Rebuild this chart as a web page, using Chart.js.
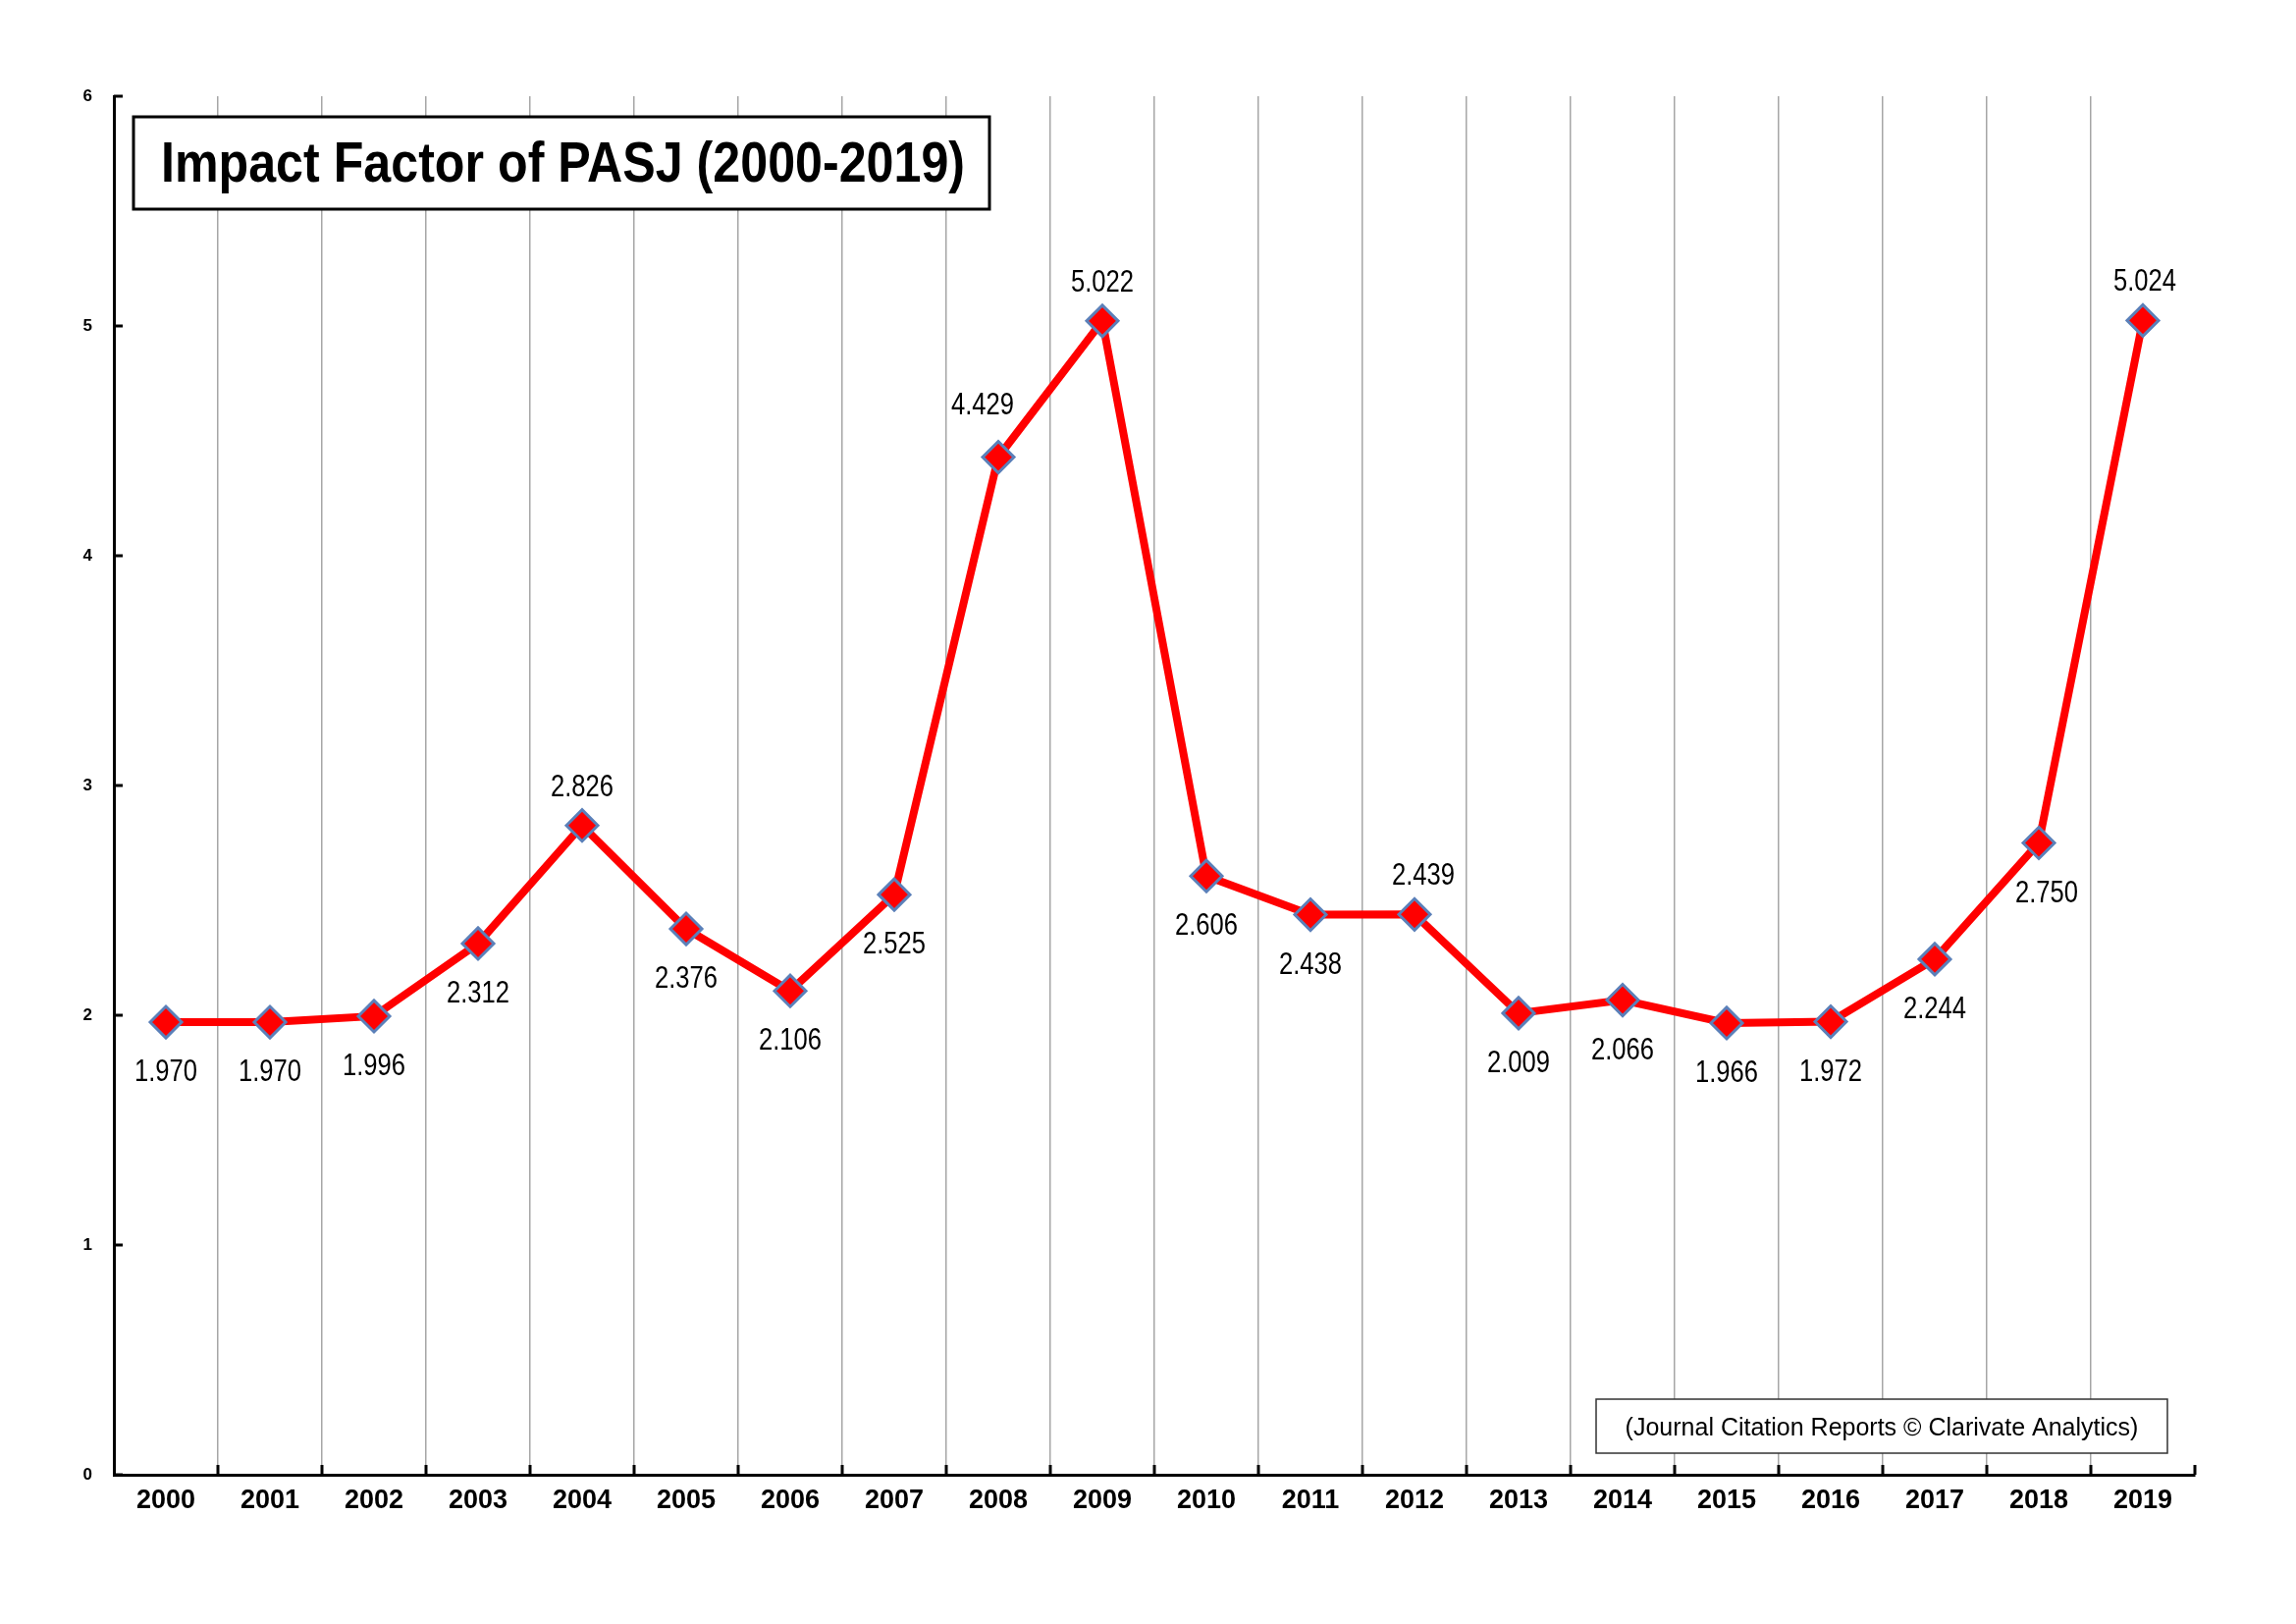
<!DOCTYPE html>
<html><head><meta charset="utf-8">
<script src="https://cdn.jsdelivr.net/npm/chart.js@4/dist/chart.umd.min.js"></script>
<style>html,body{margin:0;padding:0;background:#fff}</style>
</head><body>
<canvas id="c" width="2339" height="1654"></canvas>
<script>
const years = ['2000','2001','2002','2003','2004','2005','2006','2007','2008','2009','2010','2011','2012','2013','2014','2015','2016','2017','2018','2019'];
const impactFactors = [1.970,1.970,1.996,2.312,2.826,2.376,2.106,2.525,4.429,5.022,2.606,2.438,2.439,2.009,2.066,1.966,1.972,2.244,2.750,5.024];
const labelSide = ['below','below','below','below','above','below','below','below','above','above','below','below','above','below','below','below','below','below','below','above'];
const labelShiftX = [0,0,0,0,0,0,0,0,-16,0,0,0,9,0,0,0,0,0,8,2];
const labelShiftY = [0,0,0,0,0,0,0,0,-14,0,0,0,0,0,0,0,0,0,0,0];
const yTickValues = [0,1,2,3,4,5,6];
const titleText = 'Impact Factor of PASJ (2000-2019)';
const sourceText = '(Journal Citation Reports \u00A9 Clarivate Analytics)';

const FONT = "'Liberation Sans', Arial, sans-serif";

const decor = {
  id: 'decor',
  afterDatasetsDraw(chart) {
    const ctx = chart.ctx;
    const ys = chart.scales.y;
    const area = chart.chartArea;
    ctx.save();
    ctx.strokeStyle = '#000'; ctx.lineWidth = 3;
    yTickValues.forEach(v => {
      const py = ys.getPixelForValue(v);
      ctx.beginPath(); ctx.moveTo(area.left, py); ctx.lineTo(area.left + 9, py); ctx.stroke();
    });
    const step = (area.right - area.left) / years.length;
    for (let i = 1; i <= years.length; i++) {
      const px = area.left + i * step;
      ctx.beginPath(); ctx.moveTo(px, area.bottom); ctx.lineTo(px, area.bottom - 10); ctx.stroke();
    }
    // title box
    ctx.fillStyle = '#fff';
    ctx.fillRect(136, 119, 872, 94);
    ctx.strokeStyle = '#000'; ctx.lineWidth = 3;
    ctx.strokeRect(136, 119, 872, 94);
    ctx.fillStyle = '#000';
    ctx.font = "bold 58px " + FONT;
    ctx.textAlign = 'left'; ctx.textBaseline = 'alphabetic';
    ctx.fillText(titleText, 164, 185, 819);
    // source box
    ctx.fillStyle = '#fff';
    ctx.fillRect(1626, 1425, 582, 55);
    ctx.strokeStyle = '#333'; ctx.lineWidth = 1.5;
    ctx.strokeRect(1626, 1425, 582, 55);
    ctx.fillStyle = '#000';
    ctx.font = "25px " + FONT;
    ctx.textAlign = 'center';
    ctx.fillText(sourceText, 1917, 1462, 530);
    // data labels
    const meta = chart.getDatasetMeta(0);
    ctx.font = "32px " + FONT;
    meta.data.forEach((pt, i) => {
      const txt = impactFactors[i].toFixed(3);
      const w = ctx.measureText(txt).width * 0.8;
      const by = (labelSide[i] === 'below' ? pt.y + 60 : pt.y - 30) + labelShiftY[i];
      ctx.fillText(txt, pt.x + labelShiftX[i], by, w);
    });
    ctx.restore();
  }
};

new Chart(document.getElementById('c'), {
  type: 'line',
  data: {
    labels: years,
    datasets: [{
      data: impactFactors,
      borderColor: '#ff0000',
      borderWidth: 8,
      tension: 0,
      pointStyle: 'rectRot',
      pointRadius: 16,
      pointBackgroundColor: '#ff0000',
      pointBorderColor: '#5b80b9',
      pointBorderWidth: 3
    }]
  },
  options: {
    responsive: false,
    animation: false,
    layout: { padding: { left: 0, right: 103, top: 98, bottom: 92 } },
    plugins: { legend: { display: false }, tooltip: { enabled: false } },
    scales: {
      x: {
        offset: true,
        grid: {
          offset: true,
          drawTicks: false,
          lineWidth: 1.5,
          color: (c) => (c.type === 'tick' && c.index > 0) ? '#a6a6a6' : 'rgba(0,0,0,0)'
        },
        border: { color: '#000', width: 3 },
        ticks: { font: { family: FONT, weight: 'bold', size: 27 }, color: '#000', padding: 10, maxRotation: 0, autoSkip: false },
        afterFit(s) { s.height = 60; }
      },
      y: {
        min: 0, max: 6,
        grid: { drawOnChartArea: false, drawTicks: false },
        border: { color: '#000', width: 3 },
        ticks: { stepSize: 1, font: { family: FONT, weight: 'bold', size: 17 }, color: '#000', padding: 22 },
        afterFit(s) { s.width = 116; }
      }
    }
  },
  plugins: [decor]
});
</script>
</body></html>
